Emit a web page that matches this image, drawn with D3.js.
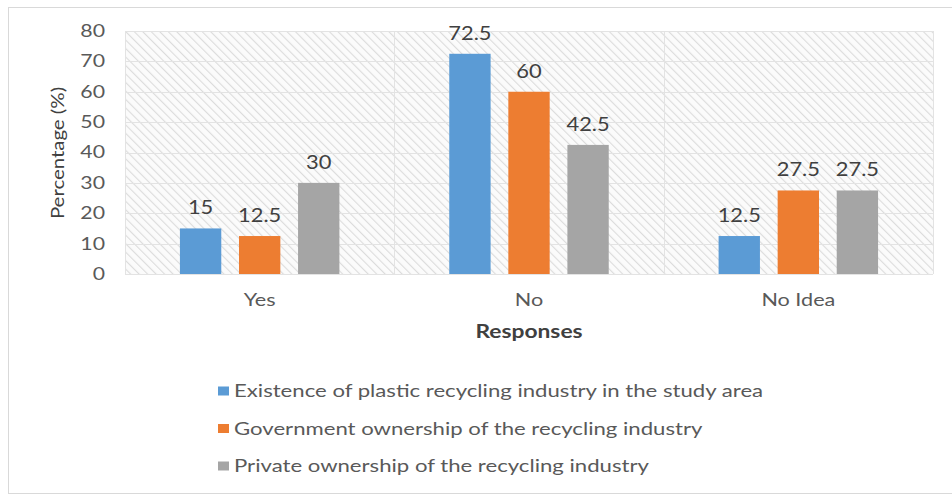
<!DOCTYPE html>
<html><head><meta charset="utf-8">
<script src="https://cdn.jsdelivr.net/npm/d3@7"></script>
<style>body{margin:0;background:#fff}svg{display:block}</style>
</head><body><svg id="c" width="952" height="496"></svg>
<script>
const categories = ["Yes", "No", "No Idea"];
const seriesNames = [
  "Existence of plastic recycling industry in the study area",
  "Government ownership of the recycling industry",
  "Private ownership of the recycling industry"
];
const existence = [15, 72.5, 12.5];
const government = [12.5, 60, 27.5];
const privateOwn = [30, 42.5, 27.5];
const yTicks = [0, 10, 20, 30, 40, 50, 60, 70, 80];
const colors = ["#5b9bd5", "#ed7d31", "#a5a5a5"];
const seriesValues = [existence, government, privateOwn];

(function () {
const svg = d3.select("#c");
const font = "Lato, 'Open Sans', sans-serif";
const txt = "#595959";

function stretch(sel, f) {
  sel.each(function () {
    const L = this.getComputedTextLength();
    this.setAttribute("textLength", (L * f).toFixed(1));
    this.setAttribute("lengthAdjust", "spacingAndGlyphs");
  });
}

svg.append("rect").attr("x", 8.5).attr("y", 7.5).attr("width", 950).attr("height", 486)
  .attr("fill", "#fff").attr("stroke", "#d9d9d9").attr("stroke-width", 1);

const defs = svg.append("defs");
const pat = defs.append("pattern").attr("id", "hatch").attr("patternUnits", "userSpaceOnUse")
  .attr("width", 6).attr("height", 6).attr("patternTransform", "rotate(-45)");
pat.append("rect").attr("width", 6).attr("height", 6).attr("fill", "#fbfbfb");
pat.append("line").attr("x1", 0).attr("y1", 0).attr("x2", 0).attr("y2", 6)
  .attr("stroke", "#dcdcdc").attr("stroke-width", 2.2);

const pLeft = 125, pRight = 933, pTop = 31, pBottom = 274;
const x0 = d3.scaleBand().domain(categories).range([pLeft, pRight]);
const x1 = d3.scaleBand().domain([0, 1, 2]).range([0, x0.bandwidth()]).paddingInner(0.3).paddingOuter(0.93);
const y = d3.scaleLinear().domain([0, 80]).range([pBottom, pTop]);

svg.append("rect").attr("x", pLeft).attr("y", pTop).attr("width", pRight - pLeft).attr("height", pBottom - pTop)
  .attr("fill", "url(#hatch)");

// gridlines
svg.append("g").selectAll("line").data(yTicks).join("line")
  .attr("x1", pLeft).attr("x2", pRight)
  .attr("y1", d => Math.round(y(d)) + 0.5).attr("y2", d => Math.round(y(d)) + 0.5)
  .attr("stroke", "#e3e3e3").attr("stroke-width", 1);
svg.append("g").selectAll("line").data(categories.concat(["end"])).join("line")
  .attr("x1", (d, i) => Math.round(pLeft + i * x0.step()) + 0.5)
  .attr("x2", (d, i) => Math.round(pLeft + i * x0.step()) + 0.5)
  .attr("y1", pTop).attr("y2", pBottom)
  .attr("stroke", "#e3e3e3").attr("stroke-width", 1);

// y axis labels
const yAxis = d3.axisLeft(y).tickValues(yTicks).tickSize(0).tickPadding(20);
const ya = svg.append("g").attr("transform", `translate(${pLeft},0)`).call(yAxis);
ya.select(".domain").remove();
ya.selectAll("text").attr("font-family", font).attr("font-size", 17).attr("fill", txt);
stretch(ya.selectAll("text"), 1.25);

// x axis labels
const xAxis = d3.axisBottom(x0).tickSize(0).tickPadding(19);
const xa = svg.append("g").attr("transform", `translate(0,${pBottom})`).call(xAxis);
xa.select(".domain").remove();
xa.selectAll("text").attr("font-family", font).attr("font-size", 18).attr("fill", txt);
stretch(xa.selectAll("text"), 1.2);

// bars
const groups = svg.append("g").selectAll("g").data(categories).join("g")
  .attr("transform", d => `translate(${x0(d)},0)`);
groups.each(function(cat, ci) {
  const g = d3.select(this);
  seriesValues.forEach((vals, si) => {
    g.append("rect").attr("x", x1(si)).attr("width", x1.bandwidth())
      .attr("y", y(vals[ci])).attr("height", y(0) - y(vals[ci])).attr("fill", colors[si]);
    const t = g.append("text").attr("x", x1(si) + x1.bandwidth() / 2).attr("y", y(vals[ci]) - 14)
      .attr("text-anchor", "middle").attr("font-family", font).attr("font-size", 19)
      .attr("fill", "#404040").text(vals[ci]);
    stretch(t, 1.15);
  });
});

// axis titles
const yt = svg.append("text").attr("transform", "translate(64,153) rotate(-90)").attr("text-anchor", "middle")
  .attr("font-family", font).attr("font-size", 17).attr("fill", "#404040").text("Percentage (%)");
stretch(yt, 1.2);
const xt = svg.append("text").attr("x", (pLeft + pRight) / 2).attr("y", 338).attr("text-anchor", "middle")
  .attr("font-family", font).attr("font-size", 19).attr("font-weight", "bold").attr("fill", "#404040").text("Responses");
stretch(xt, 1.2);

// legend
const leg = svg.append("g").selectAll("g").data(seriesNames).join("g")
  .attr("transform", (d, i) => `translate(218,${391 + i * 37.5})`);
leg.append("rect").attr("x", 0).attr("y", -4.5).attr("width", 11).attr("height", 9).attr("fill", (d, i) => colors[i]);
const lt = leg.append("text").attr("x", 16).attr("y", 6).attr("font-family", font).attr("font-size", 18)
  .attr("fill", txt).text(d => d);
stretch(lt, 1.23);
})();
</script></body></html>
